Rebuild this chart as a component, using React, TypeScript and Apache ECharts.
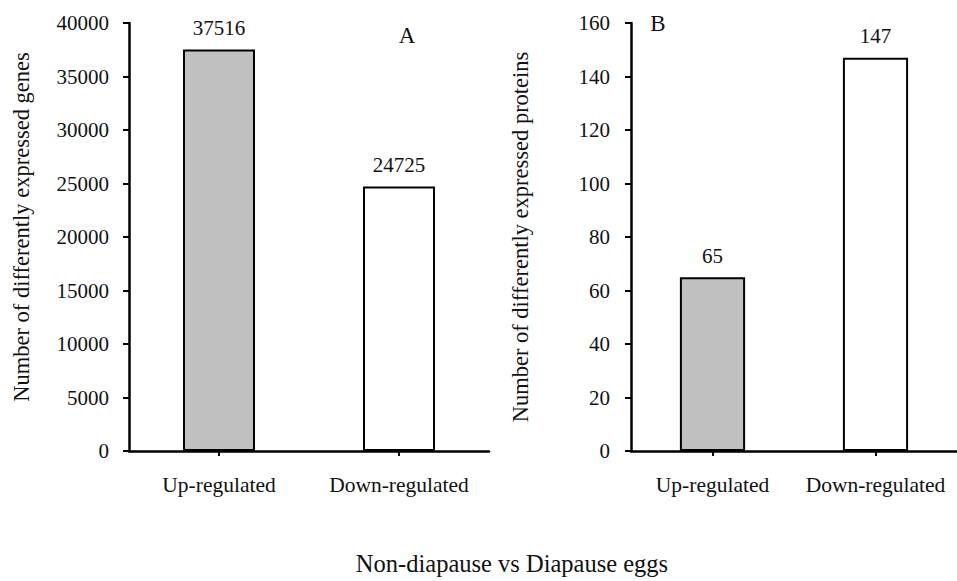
import React, { useEffect, useRef } from "react";
import * as echarts from "echarts";

const categories = ["Up-regulated", "Down-regulated"];
const genesValues = [37516, 24725];
const proteinsValues = [65, 147];
const barColors = ["#c0c0c0", "#ffffff"];
const genesTicks = { min: 0, max: 40000, interval: 5000 };
const proteinsTicks = { min: 0, max: 160, interval: 20 };
const genesAxisName = "Number of differently expressed genes";
const proteinsAxisName = "Number of differently expressed proteins";
const bottomTitle = "Non-diapause vs Diapause eggs";
const panelLabels = ["A", "B"];

const FONT = "Liberation Serif";
const INK = "#111";

export default function App() {
  const ref = useRef<HTMLDivElement>(null);

  useEffect(() => {
    if (!ref.current) return;
    const chart = echarts.init(ref.current, undefined, { renderer: "svg" });

    const xAxisBase = (gridIndex: number) => ({
      type: "category" as const,
      gridIndex,
      data: categories,
      axisLine: { lineStyle: { color: "#000", width: 2.5 } },
      axisTick: { show: true, alignWithLabel: true, length: 5, lineStyle: { color: "#000", width: 2 } },
      axisLabel: {
        color: INK,
        fontFamily: FONT,
        fontSize: 21.5,
        margin: 23,
        interval: 0,
        hideOverlap: false,
      },
    });

    const yAxisBase = (
      gridIndex: number,
      t: any,
      name: string,
      gap: number,
      margin: number,
      namePad: number[]
    ) => ({
      type: "value" as const,
      gridIndex,
      min: t.min,
      max: t.max,
      interval: t.interval,
      name,
      nameLocation: "middle" as const,
      nameGap: gap,
      nameTextStyle: { color: INK, fontFamily: FONT, fontSize: 22.5, padding: namePad },
      splitLine: { show: false },
      axisLine: { show: true, lineStyle: { color: "#000", width: 2.5 } },
      axisTick: { show: true, length: 6, lineStyle: { color: "#000", width: 2 } },
      axisLabel: {
        color: INK,
        fontFamily: FONT,
        fontSize: 21,
        margin,
        formatter: (v: number) => String(v),
      },
    });

    const seriesBase = (idx: number, values: number[]) => ({
      type: "bar" as const,
      xAxisIndex: idx,
      yAxisIndex: idx,
      barWidth: "40%",
      data: values.map((v, i) => ({
        value: v,
        itemStyle: { color: barColors[i], borderColor: "#000", borderWidth: 2 },
      })),
      label: {
        show: true,
        position: "top" as const,
        distance: 11,
        color: INK,
        fontFamily: FONT,
        fontSize: 21,
      },
    });

    chart.setOption({
      animation: false,
      backgroundColor: "#fff",
      textStyle: { fontFamily: FONT },
      grid: [
        { left: 129, width: 360, top: 23, bottom: 130, containLabel: false },
        { left: 631, width: 330, top: 23, bottom: 130, containLabel: false },
      ],
      xAxis: [xAxisBase(0), xAxisBase(1)],
      yAxis: [
        yAxisBase(0, genesTicks, genesAxisName, 96, 20, [0, 0, 0, 20]),
        yAxisBase(1, proteinsTicks, proteinsAxisName, 99, 21, [0, 0, 0, 0]),
      ],
      series: [seriesBase(0, genesValues), seriesBase(1, proteinsValues)],
      graphic: [
        {
          type: "text",
          x: 407,
          y: 35,
          style: {
            text: panelLabels[0],
            fill: INK,
            fontFamily: FONT,
            fontSize: 23,
            align: "center",
            verticalAlign: "middle",
          },
        },
        {
          type: "text",
          x: 658,
          y: 23,
          style: {
            text: panelLabels[1],
            fill: INK,
            fontFamily: FONT,
            fontSize: 23,
            align: "center",
            verticalAlign: "middle",
          },
        },
        {
          type: "text",
          x: 512,
          y: 563,
          style: {
            text: bottomTitle,
            fill: INK,
            fontFamily: FONT,
            fontSize: 24.5,
            align: "center",
            verticalAlign: "middle",
          },
        },
      ],
    });

    return () => chart.dispose();
  }, []);

  return (
    <div
      ref={ref}
      style={{ width: 957, height: 581, position: "absolute", left: 0, top: 0 }}
    />
  );
}
